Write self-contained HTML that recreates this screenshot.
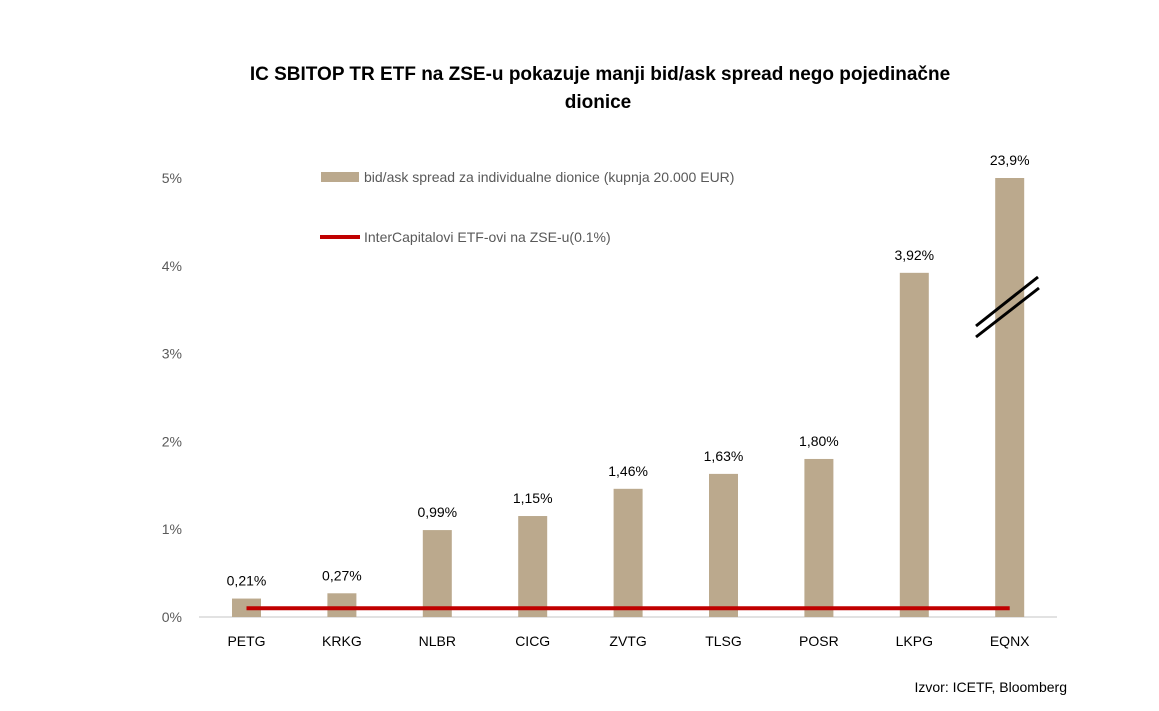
<!DOCTYPE html>
<html><head><meta charset="utf-8"><style>
body{margin:0;background:#fff;}
svg{display:block;font-family:"Liberation Sans",sans-serif;}
</style></head><body>
<svg id="c" width="1159" height="711">
<text x="600" y="80" text-anchor="middle" font-size="19" font-weight="bold">IC SBITOP TR ETF na ZSE-u pokazuje manji bid/ask spread nego pojedinačne</text>
<text x="598" y="108" text-anchor="middle" font-size="19" font-weight="bold">dionice</text>
<g id="yax"></g>
<line x1="199" y1="617" x2="1057" y2="617" stroke="#d9d9d9" stroke-width="1.5"/>
<g id="bars"></g>
<g id="xl"></g>
<g>
<rect x="321" y="172" width="38" height="10" fill="#bba98d"/>
<text x="364" y="182" font-size="14" fill="#595959">bid/ask spread za individualne dionice (kupnja 20.000 EUR)</text>
<line x1="320" y1="237" x2="360" y2="237" stroke="#c00000" stroke-width="4"/>
<text x="364" y="242" font-size="14" fill="#595959">InterCapitalovi ETF-ovi na ZSE-u(0.1%)</text>
</g>
<line x1="976" y1="326" x2="1038" y2="277" stroke="#000" stroke-width="3"/>
<line x1="976" y1="337" x2="1039" y2="288" stroke="#000" stroke-width="3"/>
<text x="1067" y="692" text-anchor="end" font-size="14">Izvor: ICETF, Bloomberg</text>
</svg>
<script>
const categories=["PETG","KRKG","NLBR","CICG","ZVTG","TLSG","POSR","LKPG","EQNX"];
const values=[0.21,0.27,0.99,1.15,1.46,1.63,1.80,3.92,5.0];
const valueLabels=["0,21%","0,27%","0,99%","1,15%","1,46%","1,63%","1,80%","3,92%","23,9%"];
const yTicks=[0,1,2,3,4,5];
const yTickLabels=["0%","1%","2%","3%","4%","5%"];
const etfLine=0.1;
const NS="http://www.w3.org/2000/svg";
const y=v=>617-v*87.8;
const x=i=>246.5+i*95.4;
function mk(t,a,p){const e=document.createElementNS(NS,t);for(const k in a)e.setAttribute(k,a[k]);p.appendChild(e);return e;}
const yax=document.getElementById('yax');
yTicks.forEach((t,i)=>{const e=mk('text',{x:182,y:y(t)+5,'text-anchor':'end','font-size':14,fill:'#595959'},yax);e.textContent=yTickLabels[i];

});
const bars=document.getElementById('bars'),xl=document.getElementById('xl');
categories.forEach((c,i)=>{
const r=mk('rect',{x:x(i)-14.5,y:y(values[i]),width:29,height:617-y(values[i]),fill:'#bba98d'},bars);


const l=mk('text',{x:x(i),y:y(values[i])-13,'text-anchor':'middle','font-size':14},bars);l.textContent=valueLabels[i];


const t=mk('text',{x:x(i),y:646,'text-anchor':'middle','font-size':14},xl);t.textContent=c;


});
const ln=mk('line',{x1:x(0),y1:y(etfLine),x2:x(categories.length-1),y2:y(etfLine),stroke:'#c00000','stroke-width':4},document.getElementById('c'));


</script>
</body></html>
